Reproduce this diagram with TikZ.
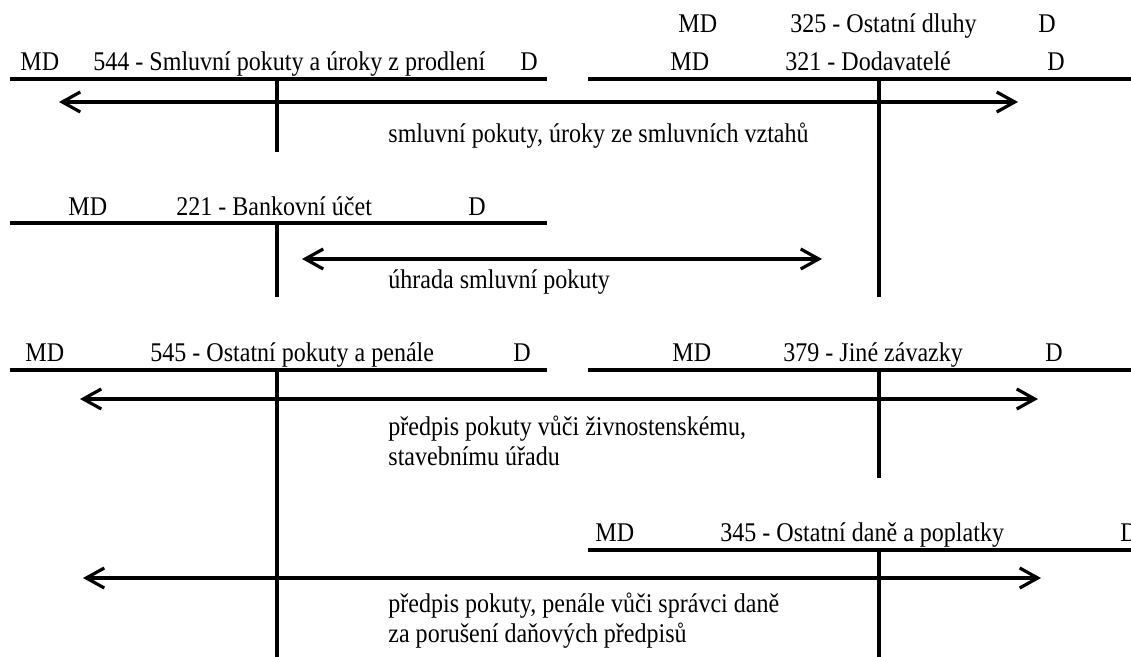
\documentclass[tikz,border=0pt]{standalone}
\usepackage{fontspec}
\setmainfont{Liberation Serif}[FakeStretch=0.89]
\usetikzlibrary{arrows.meta}

\begin{document}
\begin{tikzpicture}[x=.5pt,y=-.5pt,
  ucet/.style={line width=1.6pt},
  pohyb/.style={line width=1.6pt,{Straight Barb[length=9pt,width=10pt]}-{Straight Barb[length=9pt,width=10pt]}},
  txt/.style={anchor=base west,inner sep=0pt,font=\rmfamily\fontsize{13.5}{15}\selectfont},
  popis/.style={txt,align=left}]
\useasboundingbox (0,0) rectangle (1131,657);

% 325 - Ostatni dluhy
\node[txt] (md325) at (678,33) {MD};
\node[txt] (n325) at (790,33) {325 - Ostatní dluhy};
\node[txt] (d325) at (1038,33) {D};

% 544 - Smluvni pokuty
\node[txt] (md544) at (20,71) {MD};
\node[txt] (n544) at (93,71) {544 - Smluvní pokuty a úroky z prodlení};
\node[txt] (d544) at (520,71) {D};
\draw[ucet] (10,79) -- (547,79);
\draw[ucet] (277,79) -- (277,152);

% 321 - Dodavatele
\node[txt] (md321) at (670,71) {MD};
\node[txt] (n321) at (785,71) {321 - Dodavatelé};
\node[txt] (d321) at (1047,71) {D};
\draw[ucet] (588,79) -- (1131,79);
\draw[ucet] (879,79) -- (879,297);

\coordinate (p1a) at (59,102);
\coordinate (p1b) at (1018,102);
\draw[pohyb] (p1a) -- (p1b);
\node[txt] (l1) at (388,143) {smluvní pokuty, úroky ze smluvních vztahů};

% 221 - Bankovni ucet
\node[txt] (md221) at (68,216) {MD};
\node[txt] (n221) at (176,216) {221 - Bankovní účet};
\node[txt] (d221) at (468,216) {D};
\draw[ucet] (10,223) -- (547,223);
\draw[ucet] (277,223) -- (277,297);

\coordinate (p2a) at (302,259);
\coordinate (p2b) at (822,259);
\draw[pohyb] (p2a) -- (p2b);
\node[txt] (l2) at (388,289) {úhrada smluvní pokuty};

% 545 - Ostatni pokuty a penale
\node[txt] (md545) at (25,362) {MD};
\node[txt] (n545) at (150,362) {545 - Ostatní pokuty a penále};
\node[txt] (d545) at (513,362) {D};
\draw[ucet] (10,370) -- (547,370);
\draw[ucet] (277,370) -- (277,657);

% 379 - Jine zavazky
\node[txt] (md379) at (672,362) {MD};
\node[txt] (n379) at (783,362) {379 - Jiné závazky};
\node[txt] (d379) at (1045,362) {D};
\draw[ucet] (588,370) -- (1131,370);
\draw[ucet] (879,370) -- (879,478);

\coordinate (p3a) at (80,399);
\coordinate (p3b) at (1038,399);
\draw[pohyb] (p3a) -- (p3b);
\node[popis] (l3) at (388,466) {předpis pokuty vůči živnostenskému,\\ stavebnímu úřadu};

% 345 - Ostatni dane a poplatky
\node[txt] (md345) at (595,542) {MD};
\node[txt] (n345) at (720,542) {345 - Ostatní daně a poplatky};
\node[txt] (d345) at (1120,542) {D};
\draw[ucet] (588,550) -- (1131,550);
\draw[ucet] (879,550) -- (879,657);

\coordinate (p4a) at (83,578);
\coordinate (p4b) at (1041,578);
\draw[pohyb] (p4a) -- (p4b);
\node[popis] (l4) at (388,643) {předpis pokuty, penále vůči správci daně\\ za porušení daňových předpisů};
\end{tikzpicture}
\end{document}
